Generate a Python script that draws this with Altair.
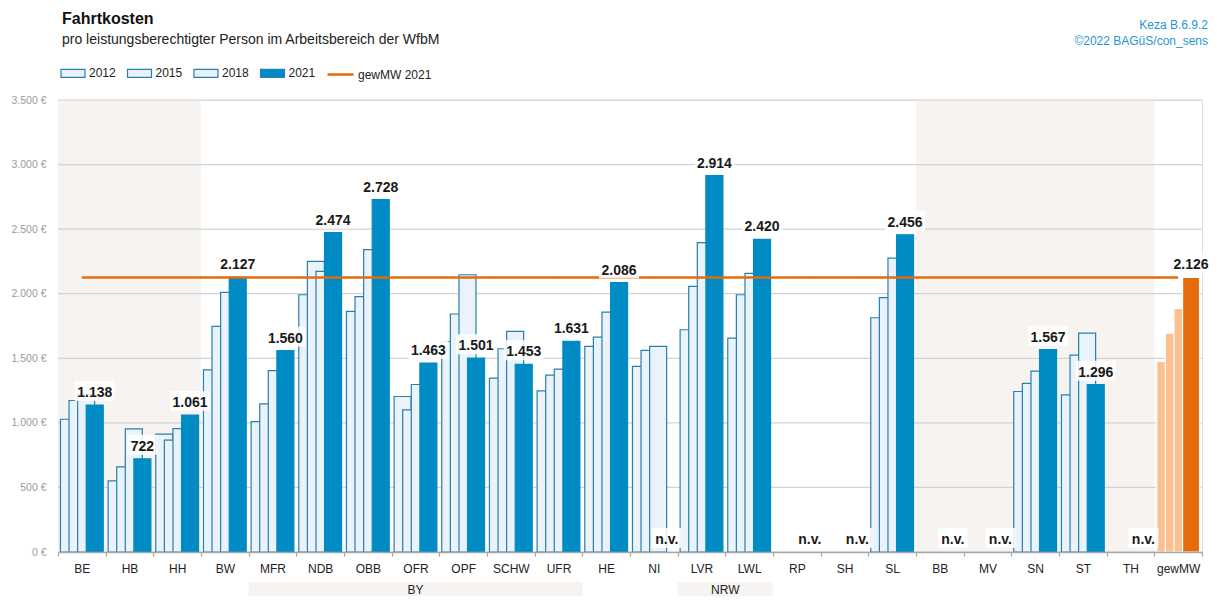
import altair as alt
import pandas as pd

CATS = ["BE", "HB", "HH", "BW", "MFR", "NDB", "OBB", "OFR", "OPF", "SCHW", "UFR", "HE",
        "NI", "LVR", "LWL", "RP", "SH", "SL", "BB", "MV", "SN", "ST", "TH", "gewMW"]
YEARS = ["2012", "2015", "2018", "2021"]
V2012 = [1028, 550, 912, 1411, 1010, 1992, 1863, 1204, 1630, 1346, 1248, 1592,
         1437, 1721, 1656, None, None, 1814, None, None, 1243, 1217, None, 1475]
V2015 = [1173, 659, 866, 1747, 1147, 2250, 1977, 1101, 1843, 1574, 1370, 1664,
         1561, 2057, 1992, None, None, 1969, None, None, 1305, 1525, None, 1695]
V2018 = [1220, 953, 956, 2010, 1405, 2173, 2341, 1297, 2147, 1708, 1416, 1858,
         1592, 2395, 2158, None, None, 2276, None, None, 1401, 1695, None, 1886]
V2021 = [1138, 722, 1061, 2127, 1560, 2474, 2728, 1463, 1501, 1453, 1631, 2086,
         None, 2914, 2420, None, None, 2456, None, None, 1567, 1296, None, 2126]
MEAN_LABEL = "gewMW 2021"
Y_TICKS = [0, 500, 1000, 1500, 2000, 2500, 3000, 3500]
SHADE_START = ["BE", "BB"]
SHADE_END = ["HH", "TH"]
GROUPS = ["BY", "NRW"]
GROUP_START = ["MFR", "LVR"]
GROUP_END = ["UFR", "LWL"]
GROUP_MID = ["OFR", "LWL"]
TITLE = "Fahrtkosten"
SUBTITLE = "pro leistungsberechtigter Person im Arbeitsbereich der WfbM"
SOURCE = ["Keza B.6.9.2", "©2022 BAGüS/con_sens"]

W, H = 1144, 452
PL, PT = 50, 92
FONT = "Liberation Sans, Arial, sans-serif"
LIGHT = "#eaf3fa"
EDGE = "#2a7fae"
BLUE = "#008bc4"
ORANGE = "#e46c0a"
LORANGE = "#fac090"
SHADE = "#f6f3f0"
TXT = "#1a1a1a"

KEYS = YEARS + ["MW" + y for y in YEARS]
FILLS = [LIGHT, LIGHT, LIGHT, BLUE, LORANGE, LORANGE, LORANGE, ORANGE]
STROKES = [EDGE, EDGE, EDGE, BLUE, "white", "white", "white", "white"]

rows = []
for y, arr in zip(YEARS, [V2012, V2015, V2018, V2021]):
    for i, c in enumerate(CATS):
        v = arr[i]
        if v is None:
            continue
        key = ("MW" + y) if c == "gewMW" else y
        rows.append({"cat": c, "year": y, "key": key, "value": v})
bars_df = pd.DataFrame(rows)

lab_rows = []
for i, c in enumerate(CATS):
    v = V2021[i]
    if v is None:
        lab_rows.append({"cat": c, "year": "2021", "value": 0, "label": "n.v."})
    else:
        lab_rows.append({"cat": c, "year": "2021", "value": v,
                         "label": f"{v:,}".replace(",", ".")})
lab_df = pd.DataFrame(lab_rows)
lab_df["wide"] = lab_df["label"].str.len() > 4

mean_val = V2021[CATS.index("gewMW")]
line_df = pd.DataFrame({"cat": CATS, "value": [mean_val] * len(CATS), "series": MEAN_LABEL})
shade_df = pd.DataFrame({"start": SHADE_START, "end": SHADE_END})
grid_df = pd.DataFrame({"value": Y_TICKS})
group_df = pd.DataFrame({"group": GROUPS, "start": GROUP_START, "end": GROUP_END, "mid": GROUP_MID})

xscale = alt.Scale(domain=CATS, paddingInner=0, paddingOuter=0)
yscale = alt.Scale(domain=[0, 3500], nice=False)
offscale = alt.Scale(domain=YEARS, paddingInner=0, paddingOuter=0.773)

X_AXIS = alt.Axis(title=None, labelAngle=0, labelFont=FONT, labelFontSize=12,
                  labelColor="#222222", domainColor="#a6a6a6", domainWidth=1.5,
                  tickColor="#a6a6a6", tickSize=4, tickWidth=1.2, tickBand="extent",
                  labelPadding=7, grid=False)
Y_AXIS = alt.Axis(title=None, values=Y_TICKS,
                  labelExpr="replace(format(datum.value, ',.0f'), ',', '.') + ' €'",
                  labelFont=FONT, labelFontSize=10.5, labelColor="#9a9a9a",
                  domain=False, ticks=False, labelPadding=12, grid=False)

shade = alt.Chart(shade_df).mark_rect(color=SHADE).encode(
    x=alt.X("start:N", scale=xscale, axis=X_AXIS, bandPosition=0),
    x2=alt.X2("end:N", bandPosition=1),
    y=alt.value(0), y2=alt.value(H),
)

grid = alt.Chart(grid_df).mark_rule(color="#d3d3d3", strokeWidth=1.2).encode(
    y=alt.Y("value:Q", scale=yscale, axis=Y_AXIS)
)

LEG_COMMON = dict(title=None, orient="none", direction="horizontal", legendY=-40,
                  labelFont=FONT, labelFontSize=12, labelColor="#222222",
                  labelOffset=3, columnPadding=8.5)
bar_leg = alt.Legend(values=YEARS, legendX=2, symbolType="M-1,-0.333H1V0.333H-1Z",
                     symbolSize=576, symbolStrokeWidth=1.2, symbolStrokeColor=EDGE,
                     **LEG_COMMON)

bars = alt.Chart(bars_df).mark_bar(size=17, strokeWidth=1.2).encode(
    x=alt.X("cat:N", scale=xscale, axis=X_AXIS),
    xOffset=alt.XOffset("year:N", scale=offscale),
    y=alt.Y("value:Q", scale=yscale, axis=Y_AXIS),
    fill=alt.Fill("key:N", scale=alt.Scale(domain=KEYS, range=FILLS), legend=bar_leg),
    stroke=alt.Stroke("key:N", scale=alt.Scale(domain=KEYS, range=STROKES), legend=None),
)

line = alt.Chart(line_df).mark_line(color=ORANGE, strokeWidth=2.5).encode(
    x=alt.X("cat:N", scale=xscale, axis=X_AXIS),
    y=alt.Y("value:Q", scale=yscale, axis=Y_AXIS),
    strokeDash=alt.StrokeDash("series:N", scale=alt.Scale(domain=[MEAN_LABEL], range=[[1, 0]]),
                              legend=alt.Legend(legendX=268, symbolType="stroke", symbolSize=676,
                                                symbolStrokeColor=ORANGE, symbolStrokeWidth=2.5,
                                                **LEG_COMMON)),
)

def box(wide, width):
    return alt.Chart(lab_df).transform_filter(
        alt.datum.wide == wide
    ).mark_rect(width=width, height=20, yOffset=-14, color="white", opacity=0.85).encode(
        x=alt.X("cat:N", scale=xscale, axis=X_AXIS),
        xOffset=alt.XOffset("year:N", scale=offscale),
        y=alt.Y("value:Q", scale=yscale, axis=Y_AXIS),
    )

labels = alt.Chart(lab_df).mark_text(font=FONT, fontSize=14, fontWeight="bold",
                                     color=TXT, baseline="alphabetic", dy=-8).encode(
    x=alt.X("cat:N", scale=xscale, axis=X_AXIS),
    xOffset=alt.XOffset("year:N", scale=offscale),
    y=alt.Y("value:Q", scale=yscale, axis=Y_AXIS),
    text="label:N",
)

gbox = alt.Chart(group_df).mark_rect(color=SHADE).encode(
    x=alt.X("start:N", scale=xscale, axis=X_AXIS, bandPosition=0),
    x2=alt.X2("end:N", bandPosition=1),
    y=alt.value(H + 30), y2=alt.value(H + 44),
)
GTEXT = dict(font=FONT, fontSize=12, color="#222222", baseline="middle")
gtext1 = alt.Chart(group_df).transform_filter(alt.datum.group == "BY").mark_text(**GTEXT).encode(
    x=alt.X("mid:N", scale=xscale, axis=X_AXIS, bandPosition=0.5),
    y=alt.value(H + 37.5), text="group:N",
)
gtext2 = alt.Chart(group_df).transform_filter(alt.datum.group == "NRW").mark_text(**GTEXT).encode(
    x=alt.X("mid:N", scale=xscale, axis=X_AXIS, bandPosition=0),
    y=alt.value(H + 37.5), text="group:N",
)

def free_text(txt, x, y, size, weight="normal", color=TXT, align="left"):
    return alt.Chart(pd.DataFrame({"t": [txt]})).mark_text(
        font=FONT, fontSize=size, fontWeight=weight, color=color, align=align,
        baseline="alphabetic").encode(x=alt.value(x), y=alt.value(y), text="t:N")

title = free_text(TITLE, 4, 24 - (PT + 8), 16, weight="bold", color="#111111")
subtitle = free_text(SUBTITLE, 4, 43.5 - (PT + 8), 14, color="#222222")
src1 = free_text(SOURCE[0], 1208 - (PL + 8), 28.5 - (PT + 8), 12, color="#1f96d2", align="right")
src2 = free_text(SOURCE[1], 1208 - (PL + 8), 45 - (PT + 8), 12, color="#1f96d2", align="right")

chart = alt.layer(
    shade, grid, bars, line, box(True, 40), box(False, 30), labels,
    gbox, gtext1, gtext2, title, subtitle, src1, src2,
).resolve_scale(stroke="independent").properties(
    width=W, height=H,
    autosize=alt.AutoSizeParams(type="none"),
    padding={"left": PL, "top": PT, "right": 1201 - PL - W, "bottom": 588 - PT - H},
).configure_view(stroke=None).configure(font=FONT)

chart.save("out.html", embed_options={"renderer": "svg", "actions": False})
